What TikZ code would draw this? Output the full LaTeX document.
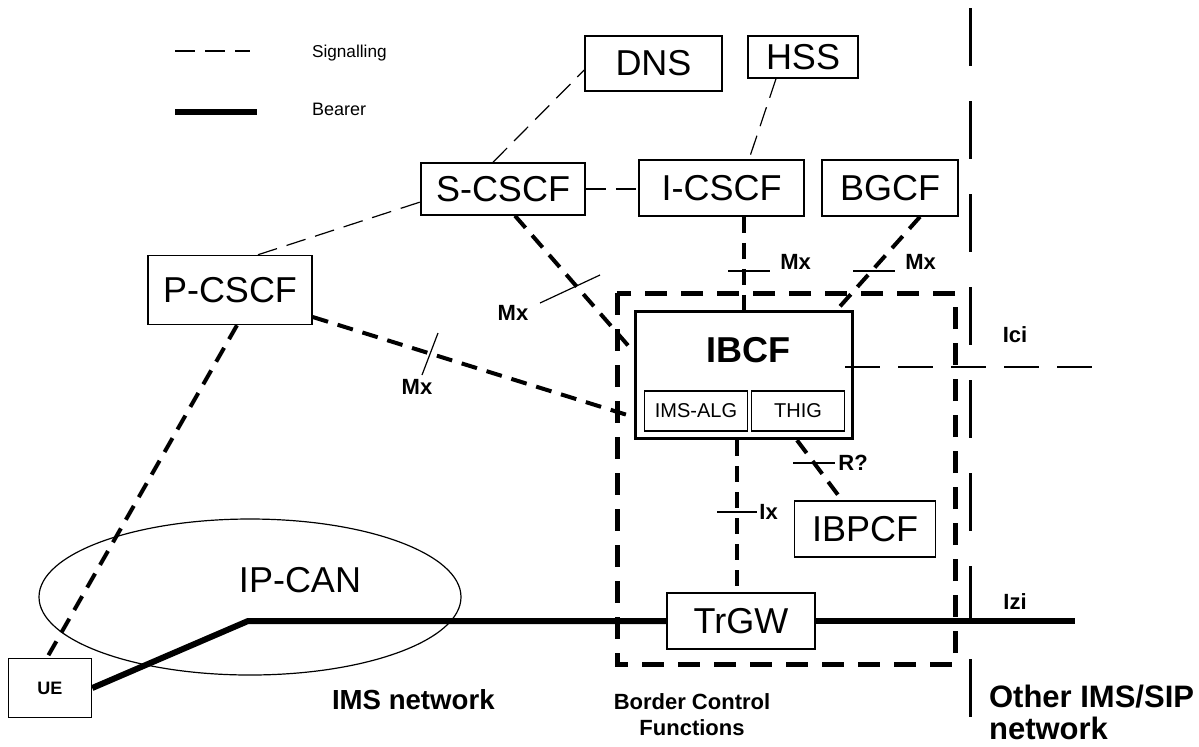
\documentclass[tikz,border=0pt]{standalone}
\usepackage{fontspec}
\setmainfont{Liberation Sans}
\usetikzlibrary{shapes.geometric}
\usetikzlibrary{positioning}

\tikzset{
  fbox/.style={draw, line width=0.75pt, inner sep=0pt, font=\fontsize{18}{20}\selectfont},
  sig/.style={line width=0.6pt, dash pattern=on 10pt off 5pt},
  msig/.style={line width=2pt, dash pattern=on 8pt off 5pt},
  bear/.style={line width=3pt},
  tick/.style={line width=0.6pt},
  lbl/.style={font=\fontsize{11}{12}\selectfont\bfseries, inner sep=1pt}
}

\begin{document}
\begin{tikzpicture}[x=0.5pt,y=-0.5pt]
\useasboundingbox (0,0) rectangle (1199,746);

% legend
\draw[sig] (175,51) -- (250,51);
\node[anchor=west, font=\fontsize{8.6}{10}\selectfont] (lgsig) at (305,53) {Signalling};
\draw[bear] (175,112) -- (257,112);
\node[anchor=west, font=\fontsize{9}{10}\selectfont] (lgbear) at (305,109) {Bearer};

% network elements
\node[fbox, minimum width=68.5pt, minimum height=27.5pt] (dns) at (653.5,63.5) {DNS};
\node[fbox, minimum width=55pt, minimum height=21pt] (hss) at (803,57) {HSS};
\node[fbox, minimum width=82pt, minimum height=26pt] (scscf) at (503,189) {S-CSCF};
\node[fbox, minimum width=82.5pt, minimum height=28pt] (icscf) at (721.5,188) {I-CSCF};
\node[fbox, minimum width=68pt, minimum height=28pt] (bgcf) at (890,188) {BGCF};
\node[fbox, minimum width=82pt, minimum height=34.5pt] (pcscf) at (230,290) {P-CSCF};
\node[draw, line width=1.75pt, minimum width=108.5pt, minimum height=63.5pt] (ibcf) at (744,375) {};
\node[font=\fontsize{18}{20}\selectfont\bfseries] (ibcflbl) at (748,350) {IBCF};
\node[fbox, minimum width=51.5pt, minimum height=20pt, font=\fontsize{10}{12}\selectfont] (imsalg) at (696,411) {IMS-ALG};
\node[fbox, minimum width=46.5pt, minimum height=20pt, font=\fontsize{10}{12}\selectfont] (thig) at (798,411) {THIG};
\node[fbox, minimum width=70.5pt, minimum height=28pt] (ibpcf) at (865,529) {IBPCF};
\node[fbox, minimum width=74pt, minimum height=28pt] (trgw) at (741,621) {TrGW};
\node[fbox, minimum width=41.5pt, minimum height=29.5pt, font=\fontsize{9}{10}\selectfont\bfseries] (ue) at (50,688) {UE};
\node[draw, ellipse, line width=0.6pt, minimum width=211pt, minimum height=78pt, inner sep=0pt] (ipcan) at (250,597) {};
\node[font=\fontsize{18}{20}\selectfont] (ipcanlbl) at (300,580) {IP-CAN};

% border control functions
\draw[line width=2.5pt, dash pattern=on 11pt off 7pt] (617,293) rectangle (955,664);
\draw[line width=1.5pt, dash pattern=on 29pt off 17.5pt] (970,8) -- (970,740);

% signalling
\draw[sig] ([xshift=-5pt]scscf.north) -- ([yshift=-3.25pt]dns.west);
\draw[sig] ([xshift=-13.5pt]hss.south) -- ([xshift=13.75pt]icscf.north);
\draw[sig] (scscf.east) -- (scscf.east -| icscf.west);
\draw[sig] ([xshift=14pt]pcscf.north) -- ([yshift=-6.5pt]scscf.west);
\draw[msig] ([xshift=6pt]scscf.south) -- ([yshift=11.5pt]ibcf.west);
\draw[msig] ([yshift=-13.5pt]pcscf.east) -- ([yshift=-21pt]ibcf.west);
\draw[msig] (ibcf.north |- icscf.south) -- (ibcf.north);
\draw[msig] ([xshift=15pt]bgcf.south) -- ([xshift=46.5pt]ibcf.north);
\draw[msig] ([xshift=3.5pt]pcscf.south) -- ([xshift=-1.5pt]ue.north);
\draw[msig] ([xshift=-3.5pt]ibcf.south) -- ([xshift=-3.5pt]ibcf.south |- trgw.north);
\draw[msig] ([xshift=26.5pt]ibcf.south) -- ([xshift=-11.5pt]ibpcf.north);
\coordinate (icia) at (845,367);
\coordinate (icib) at (1098,367);
\draw[line width=0.6pt, dash pattern=on 17.5pt off 9pt] (icia) -- (icib);

% bearer
\coordinate (bend) at (248,621);
\coordinate (izi) at (1075,621);
\draw[bear] (ue.east) -- (bend) -- (trgw.west);
\draw[bear] (trgw.east) -- (izi);

% reference points
\draw[tick] (728,271) -- (770,271);
\node[lbl, anchor=west] (mx1) at (778,262) {Mx};
\draw[tick] (853,271) -- (895,271);
\node[lbl, anchor=west] (mx2) at (903,262) {Mx};
\draw[tick] (540,303) -- (600,275);
\node[lbl] (mx3) at (513,313) {Mx};
\draw[tick] (422,375) -- (438,333);
\node[lbl] (mx4) at (417,387) {Mx};
\draw[tick] (793,463) -- (835,463);
\node[lbl, anchor=west] (rq) at (836,463) {R?};
\draw[tick] (717,512) -- (757,512);
\node[lbl, anchor=west] (ix) at (757,512) {Ix};
\node[lbl] (ici) at (1015,335) {Ici};
\node[lbl] (izilbl) at (1015,602) {Izi};

% domains
\node[anchor=west, font=\fontsize{13.8}{16}\selectfont\bfseries] (imsnet) at (325,700) {IMS network};
\node[align=center, font=\fontsize{11}{13}\selectfont\bfseries] (bcf) at (692,715) {Border Control\\Functions};
\node[anchor=west, align=left, font=\fontsize{15.5}{16}\selectfont\bfseries] (other) at (982,712) {Other IMS/SIP\\network};
\end{tikzpicture}
\end{document}
